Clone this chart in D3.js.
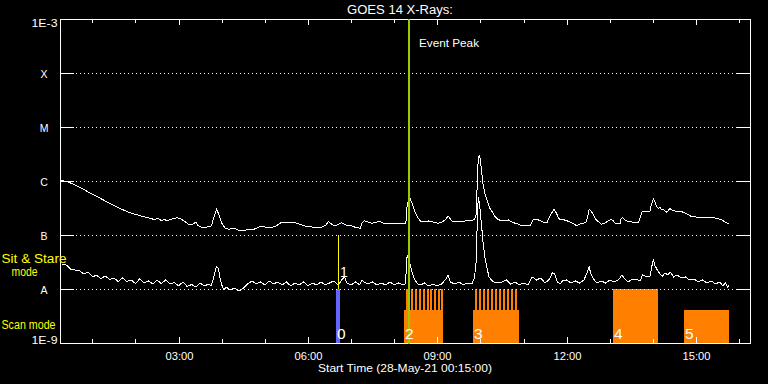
<!DOCTYPE html>
<html><head><meta charset="utf-8">
<script src="https://cdn.jsdelivr.net/npm/d3@7"></script>
<style>
html,body{margin:0;padding:0;background:#000;}
svg{display:block;background:#000;}
text{font-family:"Liberation Sans",Arial,sans-serif;fill:#fff;}
</style></head><body>
<svg id="chart" width="768" height="384"></svg>
<script>
// ---------------- data ----------------
const titleText = "GOES 14 X-Rays:";
const xAxisTitle = "Start Time (28-May-21 00:15:00)";
const timeDomain = [0.25, 16.25];               // hours UT
const majorTicks = [3, 6, 9, 12, 15];
const majorTickLabels = ["03:00", "06:00", "09:00", "12:00", "15:00"];
const minorTicks = [1, 2, 4, 5, 7, 8, 10, 11, 13, 14, 16];
const fluxLevels = [1e-3, 1e-4, 1e-5, 1e-6, 1e-7, 1e-8, 1e-9];
const fluxLabels = ["1E-3", "X", "M", "C", "B", "A", "1E-9"];

// GOES long channel (1-8 A), hours UT / W m^-2
const longTimes = [
 0.27,0.44,0.60,0.76,0.90,1.08,1.29,1.48,1.68,1.83,
 1.99,2.13,2.29,2.45,2.52,2.61,2.66,2.73,2.85,2.96,
 3.03,3.13,3.22,3.31,3.40,3.45,3.54,3.68,3.76,3.82,
 3.88,3.94,4.00,4.08,4.17,4.28,4.38,4.49,4.61,4.73,
 4.84,4.93,5.03,5.16,5.26,5.33,5.37,5.49,5.63,5.70,
 5.82,5.93,6.09,6.24,6.33,6.42,6.47,6.56,6.63,6.72,
 6.78,6.88,7.01,7.11,7.21,7.25,7.30,7.39,7.48,7.58,
 7.65,7.74,7.86,7.99,8.09,8.23,8.27,8.30,8.33,8.37,
 8.41,8.48,8.55,8.62,8.71,8.79,8.90,9.02,9.11,9.18,
 9.25,9.33,9.41,9.56,9.66,9.80,9.86,9.90,9.92,9.94,
 9.97,10.00,10.03,10.06,10.10,10.16,10.22,10.29,10.34,10.41,
 10.49,10.57,10.65,10.71,10.80,10.87,10.96,11.06,11.15,11.19,
 11.23,11.32,11.38,11.47,11.54,11.59,11.65,11.71,11.76,11.81,
 11.84,11.91,12.00,12.08,12.15,12.23,12.31,12.38,12.45,12.48,
 12.52,12.56,12.61,12.66,12.73,12.81,12.89,12.96,13.03,13.08,
 13.12,13.19,13.24,13.26,13.29,13.35,13.43,13.51,13.58,13.66,
 13.70,13.75,13.84,13.93,13.96,14.01,14.05,14.08,14.12,14.16,
 14.20,14.24,14.28,14.32,14.36,14.39,14.44,14.51,14.58,14.67,
 14.74,14.81,14.90,15.00,15.13,15.23,15.36,15.44,15.50,15.55,
 15.62,15.69,15.77];
const longFlux = [
 1.04e-6,9.58e-7,8.4e-7,7.3e-7,6.3e-7,5.3e-7,4.3e-7,3.6e-7,3.0e-7,2.67e-7,
 2.42e-7,2.25e-7,2.09e-7,1.92e-7,2.06e-7,1.82e-7,1.98e-7,1.82e-7,1.98e-7,2.09e-7,
 2.02e-7,1.82e-7,1.60e-7,1.53e-7,1.74e-7,1.50e-7,1.39e-7,1.41e-7,1.47e-7,2.15e-7,
 2.97e-7,2.35e-7,1.65e-7,1.35e-7,1.27e-7,1.35e-7,1.24e-7,1.20e-7,1.27e-7,1.26e-7,
 1.38e-7,1.47e-7,1.38e-7,1.39e-7,1.47e-7,1.60e-7,1.69e-7,1.67e-7,1.67e-7,1.70e-7,
 1.57e-7,1.47e-7,1.41e-7,1.35e-7,1.41e-7,1.53e-7,1.77e-7,1.57e-7,1.47e-7,1.60e-7,
 1.69e-7,1.53e-7,1.47e-7,1.38e-7,1.33e-7,1.67e-7,1.84e-7,1.74e-7,1.65e-7,1.70e-7,
 1.82e-7,1.67e-7,1.60e-7,1.63e-7,1.65e-7,1.63e-7,1.65e-7,3.59e-7,4.45e-7,4.74e-7,
 3.91e-7,2.70e-7,2.06e-7,1.78e-7,1.74e-7,1.82e-7,1.74e-7,1.65e-7,1.74e-7,1.90e-7,
 2.25e-7,1.84e-7,1.74e-7,1.77e-7,1.82e-7,1.84e-7,1.98e-7,2.35e-7,6.81e-7,1.98e-6,
 3.03e-6,2.45e-6,1.39e-6,8.80e-7,5.92e-7,4.26e-7,3.12e-7,2.55e-7,2.18e-7,1.94e-7,
 1.82e-7,1.86e-7,1.90e-7,1.78e-7,1.65e-7,1.60e-7,1.49e-7,1.47e-7,1.47e-7,1.74e-7,
 1.96e-7,1.94e-7,1.84e-7,1.70e-7,1.69e-7,2.06e-7,2.55e-7,3.00e-7,2.55e-7,2.06e-7,
 1.96e-7,1.94e-7,1.84e-7,1.74e-7,1.63e-7,1.49e-7,1.60e-7,1.65e-7,1.74e-7,2.06e-7,
 3.00e-7,2.78e-7,2.45e-7,2.00e-7,1.78e-7,1.58e-7,1.67e-7,1.82e-7,1.96e-7,1.82e-7,
 1.65e-7,1.60e-7,1.60e-7,1.98e-7,2.12e-7,1.90e-7,1.77e-7,1.74e-7,1.70e-7,1.69e-7,
 2.06e-7,2.70e-7,2.74e-7,2.78e-7,3.59e-7,4.74e-7,4.08e-7,3.44e-7,3.12e-7,3.23e-7,
 2.97e-7,3.00e-7,2.78e-7,2.63e-7,2.90e-7,3.12e-7,2.90e-7,2.78e-7,2.78e-7,2.70e-7,
 2.55e-7,2.40e-7,2.18e-7,2.15e-7,2.12e-7,2.10e-7,2.09e-7,2.06e-7,2.02e-7,1.96e-7,
 1.86e-7,1.70e-7,1.60e-7];

// GOES short channel (0.5-4 A)
const shortTimes = [
 0.30,0.40,0.50,0.60,0.70,0.80,0.90,1.00,1.10,1.20,
 1.30,1.40,1.50,1.60,1.70,1.80,1.90,2.00,2.10,2.20,
 2.30,2.40,2.50,2.60,2.70,2.80,2.90,3.00,3.10,3.20,
 3.30,3.40,3.50,3.60,3.70,3.75,3.80,3.85,3.88,3.92,
 3.96,4.00,4.05,4.10,4.20,4.30,4.40,4.50,4.60,4.70,
 4.80,4.90,5.00,5.10,5.20,5.30,5.40,5.50,5.60,5.70,
 5.80,5.90,6.00,6.10,6.20,6.30,6.40,6.50,6.60,6.70,
 6.80,6.85,6.90,7.00,7.10,7.20,7.25,7.30,7.40,7.50,
 7.60,7.70,7.80,7.90,8.00,8.10,8.20,8.26,8.30,8.36,
 8.41,8.48,8.55,8.62,8.70,8.80,8.90,9.00,9.10,9.20,
 9.25,9.30,9.40,9.50,9.60,9.70,9.80,9.86,9.90,9.93,
 9.95,9.98,10.02,10.06,10.10,10.15,10.20,10.25,10.30,10.40,
 10.50,10.60,10.70,10.80,10.90,11.00,11.10,11.20,11.30,11.40,
 11.50,11.60,11.67,11.72,11.78,11.85,11.90,12.00,12.10,12.20,
 12.30,12.40,12.47,12.52,12.56,12.62,12.70,12.80,12.90,13.00,
 13.10,13.20,13.28,13.35,13.42,13.50,13.60,13.70,13.76,13.85,
 13.93,13.98,14.01,14.05,14.10,14.16,14.22,14.28,14.34,14.40,
 14.48,14.56,14.65,14.75,14.85,14.95,15.05,15.15,15.25,15.35,
 15.45,15.55,15.62,15.68,15.73,15.77];
const shortFlux = [
 2.90e-8,2.78e-8,2.30e-8,2.25e-8,2.20e-8,1.90e-8,2.06e-8,1.70e-8,1.78e-8,1.56e-8,
 1.74e-8,1.50e-8,1.60e-8,1.38e-8,1.60e-8,1.38e-8,1.47e-8,1.26e-8,1.55e-8,1.29e-8,
 1.41e-8,1.24e-8,1.47e-8,1.26e-8,1.47e-8,1.24e-8,1.32e-8,1.14e-8,1.35e-8,1.11e-8,
 1.21e-8,1.09e-8,1.29e-8,1.14e-8,1.24e-8,1.14e-8,1.47e-8,2.15e-8,2.63e-8,2.45e-8,
 1.60e-8,1.19e-8,0.96e-8,1.09e-8,0.96e-8,1.04e-8,0.92e-8,1.04e-8,1.24e-8,1.41e-8,
 1.24e-8,1.35e-8,1.19e-8,1.41e-8,1.24e-8,1.35e-8,1.19e-8,1.35e-8,1.14e-8,1.29e-8,
 1.19e-8,1.35e-8,1.14e-8,1.29e-8,1.19e-8,1.35e-8,1.19e-8,1.29e-8,1.41e-8,1.19e-8,
 1.53e-8,1.67e-8,1.29e-8,1.19e-8,1.35e-8,1.19e-8,1.47e-8,1.35e-8,1.24e-8,1.35e-8,
 1.19e-8,1.29e-8,1.19e-8,1.35e-8,1.19e-8,1.29e-8,1.19e-8,1.24e-8,4.26e-8,3.03e-8,
 2.06e-8,1.47e-8,1.24e-8,1.19e-8,1.29e-8,1.14e-8,1.24e-8,1.14e-8,1.24e-8,1.53e-8,
 1.82e-8,1.35e-8,1.24e-8,1.35e-8,1.19e-8,1.29e-8,1.24e-8,1.60e-8,3.16e-8,2.35e-7,
 5.06e-7,3.59e-7,1.67e-7,7.4e-8,3.91e-8,2.45e-8,1.67e-8,1.47e-8,1.35e-8,1.29e-8,
 1.35e-8,1.47e-8,1.24e-8,1.35e-8,1.19e-8,1.29e-8,1.19e-8,1.67e-8,1.47e-8,1.60e-8,
 1.29e-8,1.53e-8,2.02e-8,1.90e-8,1.35e-8,1.24e-8,1.41e-8,1.47e-8,1.29e-8,1.41e-8,
 1.29e-8,1.47e-8,1.98e-8,2.56e-8,1.90e-8,1.53e-8,1.29e-8,1.41e-8,1.29e-8,1.47e-8,
 1.35e-8,1.47e-8,1.82e-8,1.53e-8,1.35e-8,1.47e-8,1.53e-8,1.41e-8,1.82e-8,1.67e-8,
 1.74e-8,2.78e-8,3.44e-8,2.67e-8,2.25e-8,1.90e-8,1.74e-8,1.98e-8,1.82e-8,2.06e-8,
 1.67e-8,1.82e-8,1.60e-8,1.67e-8,1.47e-8,1.53e-8,1.35e-8,1.47e-8,1.29e-8,1.41e-8,
 1.24e-8,1.35e-8,1.14e-8,1.29e-8,1.09e-8,1.19e-8];

// observations (hours UT)
const eventPeakTime = 8.337;
const sitStareLabels = ["1"];
const sitStareTimes = [6.703];
const scanLabels = ["0", "2", "3", "4", "5"];
const scanStart = [6.65, 8.227, 9.827, 13.066, 14.72];
const scanEnd   = [6.74, 9.131, 10.893, 14.117, 15.763];
const scanLevel = [1, 0.61, 0.61, 1, 0.61];
const scanKind  = ["blue", "orange", "orange", "orange", "orange"];
const spikeStarts = [
 8.273, 8.396, 8.484, 8.572, 8.660, 8.749, 8.837, 8.925, 9.013, 9.085,
 9.873, 9.966, 10.059, 10.151, 10.244, 10.337, 10.430, 10.522, 10.615, 10.708, 10.796];
const spikeDuration = 0.05;

// ---------------- drawing ----------------
const L = 60, R = 750, T = 19, B = 343;
const svg = d3.select("#chart");
const x = d3.scaleLinear().domain(timeDomain).range([L, R]);
const y = d3.scaleLog().domain([1e-9, 1e-3]).range([B, T]);
const row = d3.scaleLinear().domain([0, 2]).range([y(1e-9), y(1e-7)]);
const colors = {orange: "#ff8000", blue: "#6464ff", yellow: "#ffff00", green: "#99cc00"};

// observation blocks
const g0 = svg.append("g").attr("shape-rendering", "crispEdges");
g0.selectAll("rect.scan").data(scanLabels.map((l, i) => i)).join("rect")
  .attr("x", i => Math.round(x(scanStart[i])))
  .attr("width", i => Math.max(3, Math.round(x(scanEnd[i]) - x(scanStart[i]))))
  .attr("y", i => Math.round(row(scanLevel[i])))
  .attr("height", i => Math.round(row(0) - row(scanLevel[i])) + 1)
  .attr("fill", i => colors[scanKind[i]]);
g0.selectAll("rect.spike").data(spikeStarts).join("rect")
  .attr("x", d => Math.round(x(d)))
  .attr("width", d => Math.max(2, Math.round(x(d + spikeDuration) - x(d))))
  .attr("y", Math.round(row(1)))
  .attr("height", Math.round(row(0.61) - row(1)) + 1)
  .attr("fill", colors.orange);

// grid lines (dotted) and frame
const gridLevels = fluxLevels.slice(1, -1);
const ga = svg.append("g").attr("shape-rendering", "crispEdges").attr("stroke", "#fff");
ga.selectAll("line.grid").data(gridLevels).join("line")
  .attr("x1", L + 16).attr("x2", R - 14)
  .attr("y1", d => Math.round(y(d)) + 0.5).attr("y2", d => Math.round(y(d)) + 0.5)
  .attr("stroke-dasharray", "1,3");
ga.selectAll("line.tl").data(gridLevels).join("line")
  .attr("x1", L).attr("x2", L + 14)
  .attr("y1", d => Math.round(y(d)) + 0.5).attr("y2", d => Math.round(y(d)) + 0.5);
ga.selectAll("line.tr").data(gridLevels).join("line")
  .attr("x1", R - 14).attr("x2", R)
  .attr("y1", d => Math.round(y(d)) + 0.5).attr("y2", d => Math.round(y(d)) + 0.5);
ga.append("rect").attr("x", L + 0.5).attr("y", T + 0.5)
  .attr("width", R - L).attr("height", B - T).attr("fill", "none");
const tickDefs = majorTicks.map(t => [t, 6]).concat(minorTicks.map(t => [t, 4]));
ga.selectAll("line.xb").data(tickDefs).join("line")
  .attr("x1", d => Math.round(x(d[0])) + 0.5).attr("x2", d => Math.round(x(d[0])) + 0.5)
  .attr("y1", B).attr("y2", d => B - d[1]);
ga.selectAll("line.xt").data(tickDefs).join("line")
  .attr("x1", d => Math.round(x(d[0])) + 0.5).attr("x2", d => Math.round(x(d[0])) + 0.5)
  .attr("y1", T).attr("y2", d => T + d[1]);

// flux curves
const line = d3.line().x(d => x(d[0])).y(d => y(d[1]));
svg.append("path").datum(d3.zip(longTimes, longFlux))
  .attr("d", line).attr("fill", "none").attr("stroke", "#fff").attr("stroke-width", 1)
  .attr("shape-rendering", "crispEdges");
svg.append("path").datum(d3.zip(shortTimes, shortFlux))
  .attr("d", line).attr("fill", "none").attr("stroke", "#fff").attr("stroke-width", 1)
  .attr("shape-rendering", "crispEdges");

// sit & stare marker
svg.selectAll("line.ss").data(sitStareTimes).join("line")
  .attr("x1", d => Math.round(x(d)) + 0.5).attr("x2", d => Math.round(x(d)) + 0.5)
  .attr("y1", row(2)).attr("y2", row(1))
  .attr("stroke", colors.yellow).attr("shape-rendering", "crispEdges");

// event peak line
svg.append("line")
  .attr("x1", Math.round(x(eventPeakTime))).attr("x2", Math.round(x(eventPeakTime)))
  .attr("y1", T).attr("y2", B + 1)
  .attr("stroke", colors.green).attr("stroke-width", 2).attr("shape-rendering", "crispEdges");

// ---------------- text ----------------
function txt(s, px, py, size, opts = {}) {
  const t = svg.append("text").attr("x", px).attr("y", py)
    .style("font-size", size + "px").text(s);
  if (opts.anchor) t.attr("text-anchor", opts.anchor);
  if (opts.len) t.attr("textLength", opts.len).attr("lengthAdjust", "spacingAndGlyphs");
  if (opts.fill) t.style("fill", opts.fill);
  return t;
}
txt(titleText, 347, 13.5, 12, {len: 106});
txt("Event Peak", 419, 47, 11, {len: 60});
txt(xAxisTitle, 318, 372, 11, {len: 174});

majorTicks.forEach((t, i) => txt(majorTickLabels[i], Math.round(x(t)) + 0.5, 359.5, 10.5, {anchor: "middle", len: 28}));

fluxLevels.forEach((f, i) => {
  const lab = fluxLabels[i];
  if (i === 0) txt(lab, 57.5, 27, 10.5, {anchor: "end", len: 26});
  else if (i === fluxLevels.length - 1) txt(lab, 57.5, 344, 10.5, {anchor: "end", len: 26});
  else txt(lab, 44, Math.round(y(f)) + 5, 10.5, {anchor: "middle"});
});

txt("Sit & Stare", 1.5, 262.5, 12, {len: 65, fill: colors.yellow});
txt("mode", 11.5, 275.5, 12, {len: 26, fill: colors.yellow});
txt("Scan mode", 1.5, 328.5, 12, {len: 54, fill: colors.yellow});

scanLabels.forEach((l, i) => txt(l, Math.round(x(scanStart[i])) + 1, 339, 15.5));
sitStareLabels.forEach((l, i) => txt(l, Math.round(x(sitStareTimes[i])) + 2, 277, 14));
</script>
</body></html>
